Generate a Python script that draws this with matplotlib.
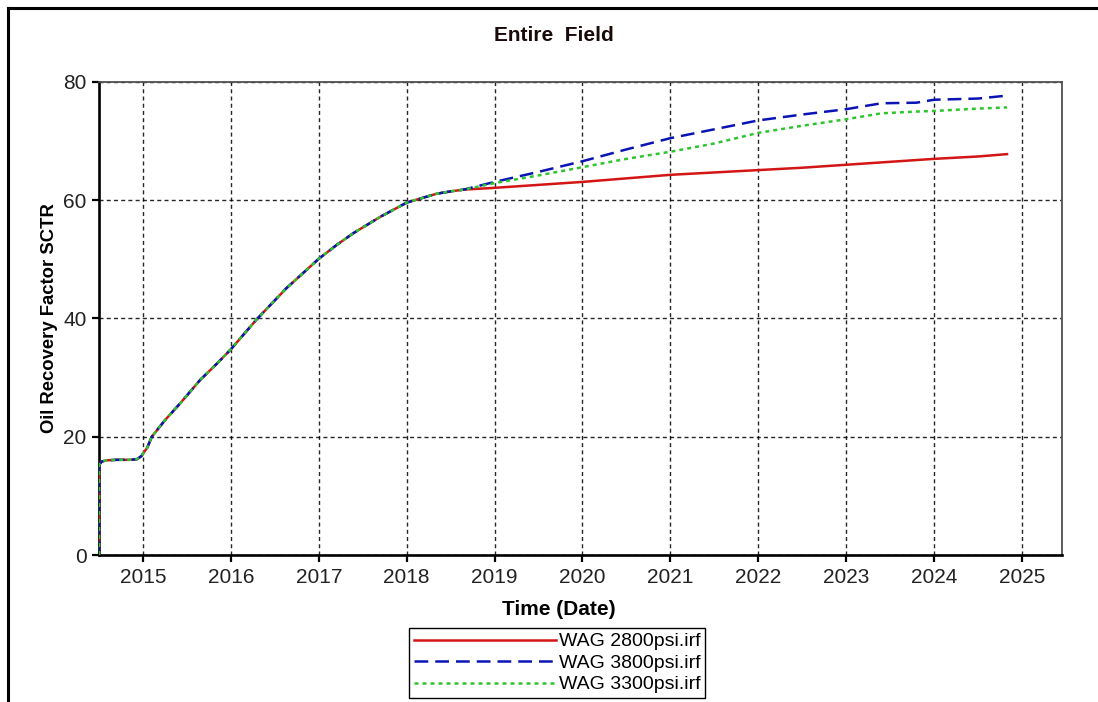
import matplotlib
matplotlib.use("Agg")
import matplotlib.pyplot as plt
from matplotlib.lines import Line2D

plt.rcParams['font.family'] = ['Liberation Sans', 'DejaVu Sans']

# shared history (all three cases identical until WAG pressure changes)
hist_years = [2014.5, 2014.5, 2014.53, 2014.58, 2014.7, 2014.85, 2014.93, 2014.98,
              2015.05, 2015.1, 2015.25, 2015.42, 2015.65, 2015.85, 2016.0, 2016.29,
              2016.63, 2017.0, 2017.2, 2017.39, 2017.7, 2018.0, 2018.34, 2018.5, 2018.65]
hist_rf = [0.0, 15.2, 15.8, 16.0, 16.1, 16.1, 16.2, 16.7,
           18.2, 20.0, 22.8, 25.6, 29.6, 32.5, 34.8, 39.8,
           45.1, 50.1, 52.4, 54.4, 57.2, 59.6, 61.1, 61.5, 61.8]

# forecast years after the split
fc_years = [2019.0, 2019.5, 2020.0, 2020.5, 2021.0, 2021.5, 2022.0, 2022.5,
            2023.0, 2023.4, 2023.8, 2024.0, 2024.5, 2024.83]
rf_2800 = [62.1, 62.6, 63.1, 63.7, 64.3, 64.7, 65.1, 65.5,
           66.0, 66.4, 66.8, 67.0, 67.4, 67.8]
rf_3800 = [63.1, 64.8, 66.6, 68.6, 70.5, 72.0, 73.5, 74.5,
           75.4, 76.4, 76.5, 77.0, 77.2, 77.7]
rf_3300 = [62.9, 64.2, 65.6, 67.0, 68.2, 69.6, 71.4, 72.6,
           73.7, 74.7, 75.0, 75.1, 75.5, 75.7]

years = list(range(2015, 2026))

fig = plt.figure(figsize=(10.98, 7.02), dpi=100)
ax = fig.add_axes([0.0902, 0.2094, 0.877, 0.6738])

ax.plot(hist_years + fc_years, hist_rf + rf_2800, color='#d41515', lw=1.8,
        label='WAG 2800psi.irf', zorder=3)
ax.plot(hist_years + fc_years, hist_rf + rf_3800, color='#0a14b4', lw=1.8,
        dashes=(5.5, 2.8), label='WAG 3800psi.irf', zorder=4)
ax.plot(hist_years + fc_years, hist_rf + rf_3300, color='#2ec42e', lw=1.8,
        dashes=(1.6, 1.6), label='WAG 3300psi.irf', zorder=5)

ax.set_xlim(2014.5, 2025.455)
ax.set_ylim(0, 80)
ax.set_xticks(years)
ax.set_xticklabels([str(y) for y in years])
ax.set_yticks([0, 20, 40, 60, 80])

ax.grid(True, color='black', lw=1.0, linestyle=(0, (2.9, 2.3)), alpha=0.85)
ax.set_axisbelow(True)

for side in ['left', 'bottom']:
    ax.spines[side].set_linewidth(1.9)
    ax.spines[side].set_color('black')
for side in ['top', 'right']:
    ax.spines[side].set_linewidth(1.3)
    ax.spines[side].set_color('#505050')

ax.tick_params(axis='both', length=5, width=1.6, labelsize=15, colors='black',
               labelcolor='#222222', pad=4)

ax.set_xlabel('Time (Date)', fontsize=15, fontweight='bold', labelpad=5)
ax.xaxis.set_label_coords(0.477, -0.095)
ax.set_ylabel('Oil Recovery Factor SCTR', fontsize=13.3, fontweight='bold', labelpad=4)
fig.text(0.504, 0.950, 'Entire  Field', ha='center', va='center',
         fontsize=15, fontweight='bold', color='#1a0a0a')

leg = fig.legend(loc='upper center', bbox_to_anchor=(0.5075, 0.1054),
                 fontsize=14, handlelength=7.3, handletextpad=0.12,
                 labelspacing=0.2, borderpad=0.25, borderaxespad=0,
                 fancybox=False, framealpha=1, edgecolor='black')
leg.get_frame().set_linewidth(1.0)

# outer frame (top and left edges visible)
fig.add_artist(Line2D([0.0073, 1.0], [0.9886, 0.9886], color='black', lw=2.2,
                      transform=fig.transFigure))
fig.add_artist(Line2D([0.0073, 0.0073], [0.0, 0.9886], color='black', lw=2.2,
                      transform=fig.transFigure))

fig.savefig('out.png', dpi=100)
